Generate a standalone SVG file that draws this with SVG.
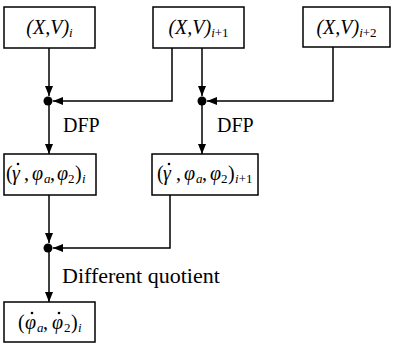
<svg xmlns="http://www.w3.org/2000/svg" width="393" height="346" viewBox="0 0 393 346">
  <defs>
    <marker id="arrow" viewBox="0 0 10 8" refX="10" refY="4" markerWidth="10" markerHeight="8" markerUnits="userSpaceOnUse" orient="auto">
      <path d="M0,0 L10,4 L0,8 Z" fill="#000"/>
    </marker>
    <style>
      rect.box { fill: #fff; stroke: #000; stroke-width: 1.5; }
      text { font-family: "Liberation Serif", "Times New Roman", serif; fill: #000; }
      .math { font-style: italic; font-size: 20px; }
      .sub { font-size: 13px; }
      .up { font-style: normal; }
      .lbl { font-size: 20px; }
      .lbl.wide { font-size: 22px; }
      #connectors path, #connectors line { fill: none; stroke: #000; stroke-width: 1.5; }
      circle.dot, circle.acc { fill: #000; }
    </style>
  </defs>

  <rect width="393" height="346" fill="#fff"/>

  <g id="connectors">
    <line x1="49" y1="48" x2="49" y2="96" marker-end="url(#arrow)"/>
    <path d="M172,48 V101 H53" marker-end="url(#arrow)"/>
    <line x1="202" y1="48" x2="202" y2="96" marker-end="url(#arrow)"/>
    <path d="M333,47 V101 H207" marker-end="url(#arrow)"/>
    <line x1="49" y1="101" x2="49" y2="154" marker-end="url(#arrow)"/>
    <line x1="202" y1="101" x2="202" y2="154" marker-end="url(#arrow)"/>
    <line x1="49" y1="195" x2="49" y2="243" marker-end="url(#arrow)"/>
    <path d="M170,195 V248 H53" marker-end="url(#arrow)"/>
    <line x1="49" y1="248" x2="49" y2="302" marker-end="url(#arrow)"/>
    <circle class="dot" cx="48" cy="101" r="4.5"/>
    <circle class="dot" cx="202" cy="101" r="4.5"/>
    <circle class="dot" cx="48" cy="248" r="4.5"/>
    <text class="lbl" x="63" y="132">DFP</text>
    <text class="lbl" x="217" y="132">DFP</text>
    <text class="lbl wide" x="62" y="283">Different quotient</text>
  </g>

  <g id="xv-i">
    <rect class="box" x="4" y="7" width="91" height="41"/>
    <text class="math" x="49.5" y="34" text-anchor="middle">(X,V)<tspan class="sub" dy="3">i</tspan></text>
  </g>

  <g id="xv-i1">
    <rect class="box" x="153" y="7" width="91" height="41"/>
    <text class="math" x="198.5" y="34" text-anchor="middle">(X,V)<tspan class="sub" dy="3">i<tspan class="up">+1</tspan></tspan></text>
  </g>

  <g id="xv-i2">
    <rect class="box" x="303" y="7" width="87" height="40"/>
    <text class="math" x="346.5" y="34" text-anchor="middle">(X,V)<tspan class="sub" dy="3">i<tspan class="up">+2</tspan></tspan></text>
  </g>

  <g id="state-i">
    <rect class="box" x="4" y="154" width="92" height="41"/>
    <text class="math" y="180"><tspan class="up" x="6">(</tspan><tspan x="12">γ</tspan><tspan class="up" x="24">,</tspan><tspan x="32">φ</tspan><tspan class="sub" x="44" y="183">a</tspan><tspan class="up" x="50" y="180">,</tspan><tspan x="57">φ</tspan><tspan class="sub up" x="68" y="183">2</tspan><tspan class="up" x="75" y="180">)</tspan><tspan class="sub" x="82" y="183">i</tspan></text>
    <circle class="acc" cx="18" cy="164" r="1.3"/>
  </g>

  <g id="state-i1">
    <rect class="box" x="152" y="154" width="106" height="41"/>
    <text class="math" y="180"><tspan class="up" x="157">(</tspan><tspan x="163">γ</tspan><tspan class="up" x="176">,</tspan><tspan x="184">φ</tspan><tspan class="sub" x="196" y="183">a</tspan><tspan class="up" x="202" y="180">,</tspan><tspan x="210">φ</tspan><tspan class="sub up" x="221" y="183">2</tspan><tspan class="up" x="228" y="180">)</tspan><tspan class="sub" x="235" y="183">i<tspan class="up">+1</tspan></tspan></text>
    <circle class="acc" cx="169" cy="164" r="1.3"/>
  </g>

  <g id="rate-i">
    <rect class="box" x="4" y="302" width="91" height="40"/>
    <text class="math" y="329"><tspan class="up" x="18">(</tspan><tspan x="25">φ</tspan><tspan class="sub" x="37" y="332">a</tspan><tspan class="up" x="43" y="329">,</tspan><tspan x="52">φ</tspan><tspan class="sub up" x="64" y="332">2</tspan><tspan class="up" x="71" y="329">)</tspan><tspan class="sub" x="78" y="332">i</tspan></text>
    <circle class="acc" cx="32" cy="313" r="1.3"/>
    <circle class="acc" cx="59" cy="313" r="1.3"/>
  </g>
</svg>
